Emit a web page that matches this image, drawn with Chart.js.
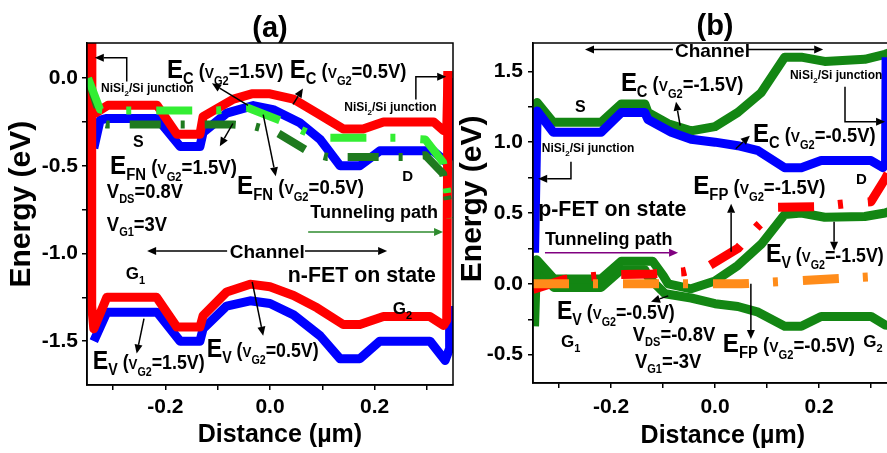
<!DOCTYPE html>
<html>
<head>
<meta charset="utf-8">
<script src="https://cdn.jsdelivr.net/npm/chart.js@4.4.1/dist/chart.umd.min.js"></script>
<style>
    html, body { margin: 0; padding: 0; background: #fff; width: 887px; height: 453px; overflow: hidden; }
    canvas { position: absolute; top: 0; }
</style>
</head>
<body>
<canvas id="grafA" width="470" height="453" style="left:0"></canvas>
<canvas id="grafB" width="470" height="453" style="left:440px"></canvas>
<script>
// ---- panel (a): n-FET ----
var xTicks = [-0.3, -0.2, -0.1, 0.0, 0.1, 0.2, 0.3];
var yTicksA = [-1.5, -1.25, -1.0, -0.75, -0.5, -0.25, 0.0];
var yTicksB = [-0.5, -0.25, 0.0, 0.25, 0.5, 0.75, 1.0, 1.25, 1.5];

// Ec, VG2 = 0.5V (red)
var aEcRedX = [-0.342, -0.341, -0.334, -0.31, -0.216, -0.178, -0.134, -0.128, -0.07, -0.035, 0.0, 0.045, 0.09, 0.14, 0.178, 0.217, 0.313, 0.332, 0.338, 0.3405];
var aEcRedY = [0.3, -0.15, -0.2, -0.155, -0.155, -0.32, -0.32, -0.22, -0.12, -0.09, -0.09, -0.12, -0.2, -0.29, -0.29, -0.25, -0.25, -0.3, -0.3, 0.04];
// Ev, VG2 = 0.5V (red)
var aEvRedX = [-0.342, -0.341, -0.337, -0.312, -0.217, -0.178, -0.134, -0.128, -0.083, -0.038, 0.0, 0.045, 0.09, 0.14, 0.172, 0.217, 0.306, 0.332, 0.338, 0.3405];
var aEvRedY = [0.3, -1.3, -1.43, -1.25, -1.25, -1.42, -1.42, -1.355, -1.22, -1.175, -1.19, -1.24, -1.31, -1.405, -1.405, -1.36, -1.36, -1.41, -1.38, 0.04];
// Ec, VG2 = 1.5V (blue)
var aEcBlueX = [-0.337, -0.325, -0.312, -0.216, -0.172, -0.134, -0.128, -0.083, -0.032, 0.006, 0.057, 0.096, 0.134, 0.172, 0.21, 0.312, 0.337, 0.3425, 0.3435];
var aEcBlueY = [-0.40, -0.24, -0.23, -0.23, -0.39, -0.39, -0.31, -0.2, -0.157, -0.18, -0.255, -0.35, -0.5, -0.5, -0.415, -0.415, -0.48, -0.45, 0.0];
// Ev, VG2 = 1.5V (blue)
var aEvBlueX = [-0.337, -0.312, -0.216, -0.172, -0.134, -0.128, -0.083, -0.038, 0.0, 0.045, 0.096, 0.134, 0.172, 0.21, 0.306, 0.335, 0.3425, 0.3435];
var aEvBlueY = [-1.5, -1.335, -1.335, -1.5, -1.5, -1.43, -1.3, -1.27, -1.285, -1.35, -1.47, -1.6, -1.6, -1.5, -1.5, -1.61, -1.55, -1.3];
// EFN, VG2 = 0.5V (light green)
var aFnLightX = [-0.348, -0.325, -0.312, -0.1, -0.06, -0.044, 0.025, 0.07, 0.11, 0.245, 0.297, 0.331, 0.339, 0.345];
var aFnLightY = [0.0, -0.18, -0.185, -0.185, -0.17, -0.168, -0.248, -0.31, -0.34, -0.34, -0.35, -0.48, -0.65, -0.8];
// EFN, VG2 = 1.5V (dark green)
var aFnDarkX = [-0.348, -0.32, -0.312, -0.07, -0.03, 0.013, 0.077, 0.11, 0.255, 0.297, 0.331, 0.339, 0.345];
var aFnDarkY = [0.0, -0.26, -0.265, -0.265, -0.275, -0.31, -0.425, -0.45, -0.45, -0.44, -0.545, -0.68, -0.8];

// ---- panel (b): p-FET ----
// Ec, VG2 = -1.5V (green)
var bEcGreenX = [-0.346, -0.342, -0.311, -0.219, -0.18, -0.135, -0.129, -0.09, -0.046, 0.0, 0.044, 0.089, 0.134, 0.166, 0.211, 0.288, 0.327, 0.35];
var bEcGreenY = [0.9, 1.28, 1.14, 1.14, 1.27, 1.27, 1.21, 1.13, 1.08, 1.11, 1.21, 1.35, 1.6, 1.6, 1.57, 1.585, 1.62, 1.65];
// Ec, VG2 = -0.5V (blue)
var bEcBlueX = [-0.347, -0.342, -0.311, -0.219, -0.18, -0.135, -0.129, -0.084, -0.046, 0.0, 0.044, 0.083, 0.134, 0.166, 0.204, 0.3, 0.323, 0.328, 0.329];
var bEcBlueY = [0.22, 1.22, 1.07, 1.07, 1.21, 1.21, 1.16, 1.07, 1.02, 1.0, 0.975, 0.94, 0.82, 0.82, 0.87, 0.87, 0.82, 0.85, 1.6];
// Ev, VG2 = -1.5V (green)
var bEvHighX = [-0.347, -0.343, -0.31, -0.219, -0.18, -0.12, -0.1, -0.09, -0.046, 0.0, 0.044, 0.089, 0.134, 0.166, 0.211, 0.288, 0.327, 0.35];
var bEvHighY = [-0.3, 0.17, 0.035, 0.035, 0.16, 0.16, 0.06, 0.0, -0.035, 0.02, 0.13, 0.28, 0.49, 0.5, 0.47, 0.475, 0.5, 0.53];
// Ev, VG2 = -0.5V (green)
var bEvLowX = [-0.345, -0.31, -0.219, -0.18, -0.135, -0.129, -0.096, -0.046, 0.0, 0.044, 0.083, 0.134, 0.166, 0.204, 0.3, 0.327, 0.35];
var bEvLowY = [0.1, -0.025, -0.025, 0.1, 0.1, 0.05, -0.07, -0.1, -0.14, -0.16, -0.2, -0.3, -0.3, -0.23, -0.23, -0.29, -0.3];
// EFP, VG2 = -1.5V (red)
var bFpRedX = [-0.35, -0.29, -0.2, -0.12, -0.06, -0.01, 0.044, 0.083, 0.12, 0.2, 0.25, 0.3, 0.327, 0.35];
var bFpRedY = [-0.04, 0.03, 0.065, 0.07, 0.085, 0.13, 0.25, 0.41, 0.54, 0.545, 0.565, 0.58, 0.74, 0.9];
// EFP, VG2 = -0.5V (orange)
var bFpOrangeX = [-0.35, 0.05, 0.15, 0.3, 0.35];
var bFpOrangeY = [0.0, 0.0, 0.02, 0.05, 0.06];

var FONT = '"Liberation Sans", Arial, sans-serif';
var DASH = [36, 24, 5, 25];

function pts(xs, ys) {
    return xs.map(function (x, i) { return { x: x, y: ys[i] }; });
}

function linea(label, xs, ys, color, width, dash, order) {
    return {
        label: label,
        data: pts(xs, ys),
        borderColor: color,
        backgroundColor: color,
        borderWidth: width,
        borderDash: dash || [],
        borderJoinStyle: 'round',
        pointRadius: 0,
        tension: 0,
        clip: 0,
        order: order
    };
}

// subscripted labels
function lab(main, sub, vg) {
    return [[main, 26, 0], [sub, 16, 6], [' (', 20, 0], ['V', 15, 0], ['G2', 12, 7], ['=' + vg + ')', 20, 0]];
}
function vsub(sub, val) {
    return [['V', 20, 0], [sub, 12, 5], ['=' + val, 20, 0]];
}
var nisi = [['NiSi', 12, 0], ['2', 8, 4], ['/Si junction', 12, 0]];

function rich(ctx, x, y, segs, sq) {
    ctx.save();
    ctx.translate(x, y);
    ctx.scale(sq || 1, 1);
    var cx = 0;
    segs.forEach(function (s) {
        ctx.font = 'bold ' + s[1] + 'px ' + FONT;
        ctx.fillText(s[0], cx, s[2]);
        cx += ctx.measureText(s[0]).width;
    });
    ctx.restore();
}

function flecha(ctx, p, color) {
    ctx.save();
    ctx.strokeStyle = color;
    ctx.fillStyle = color;
    ctx.lineWidth = 1.5;
    var n = p.length;
    var dx = p[n - 1][0] - p[n - 2][0], dy = p[n - 1][1] - p[n - 2][1];
    var d = Math.sqrt(dx * dx + dy * dy), ux = dx / d, uy = dy / d;
    var bx = p[n - 1][0] - ux * 9, by = p[n - 1][1] - uy * 9;
    ctx.beginPath();
    ctx.moveTo(p[0][0], p[0][1]);
    for (var i = 1; i < n - 1; i++) ctx.lineTo(p[i][0], p[i][1]);
    ctx.lineTo(bx, by);
    ctx.stroke();
    ctx.beginPath();
    ctx.moveTo(p[n - 1][0], p[n - 1][1]);
    ctx.lineTo(bx - uy * 4, by + ux * 4);
    ctx.lineTo(bx + uy * 4, by - ux * 4);
    ctx.closePath();
    ctx.fill();
    ctx.restore();
}

// frame + annotations, positions in data units
function notas(cfg) {
    return {
        id: 'notas',
        afterDraw: function (chart) {
            var ctx = chart.ctx, a = chart.chartArea;
            var sx = chart.scales.x, sy = chart.scales.y;
            var px = function (v) { return sx.getPixelForValue(v); };
            var py = function (v) { return sy.getPixelForValue(v); };
            ctx.save();
            ctx.strokeStyle = '#000';
            ctx.lineWidth = 1.5;
            ctx.strokeRect(a.left, a.top, a.right - a.left, a.bottom - a.top);
            ctx.fillStyle = '#000';
            ctx.textBaseline = 'alphabetic';
            ctx.textAlign = 'left';
            cfg.textos.forEach(function (t) {
                rich(ctx, px(t.x), py(t.y), t.s, t.sq);
            });
            cfg.flechas.forEach(function (f) {
                flecha(ctx, f.p.map(function (q) { return [px(q[0]), py(q[1])]; }), f.c || '#000');
            });
            // titles
            ctx.textAlign = 'center';
            ctx.textBaseline = 'middle';
            ctx.font = 'bold 29px ' + FONT;
            ctx.fillText(cfg.panel, px(0), py(cfg.panelY));
            ctx.font = 'bold 25px ' + FONT;
            ctx.fillText('Distance (\u00b5m)', px(cfg.xtit[0]), py(cfg.xtit[1]));
            ctx.save();
            ctx.translate(px(cfg.ytit[0]), py(cfg.ytit[1]));
            ctx.rotate(-Math.PI / 2);
            ctx.font = 'bold 30px ' + FONT;
            ctx.fillText('Energy (eV)', 0, 0);
            ctx.restore();
            ctx.restore();
        }
    };
}

function escala(min, max, ticks, step, fitKey, fitVal, pad) {
    return {
        type: 'linear',
        min: min,
        max: max,
        afterBuildTicks: function (s) {
            s.ticks = ticks.map(function (v) { return { value: v }; });
        },
        afterFit: function (s) { s[fitKey] = fitVal; },
        grid: { drawOnChartArea: false, tickLength: 5, color: '#000', lineWidth: 1.5 },
        border: { color: '#000', width: 1.5 },
        ticks: {
            autoSkip: false,
            maxRotation: 0,
            padding: pad,
            color: '#000',
            font: { family: FONT, weight: 'bold', size: 21 },
            callback: function (v) {
                var r = v / step;
                return Math.abs(r - Math.round(r)) < 1e-6 ? v.toFixed(1) : '';
            }
        }
    };
}

function panel(id, datasets, yr, yTicks, geo, cfg) {
    var ctx = document.getElementById(id).getContext('2d');
    return new Chart(ctx, {
        type: 'line',
        data: { datasets: datasets },
        options: {
            responsive: false,
            animation: false,
            devicePixelRatio: 1,
            layout: { padding: { left: 0, right: geo.right, top: 43, bottom: 0 } },
            plugins: { legend: { display: false }, tooltip: { enabled: false } },
            scales: {
                x: escala(-0.35, 0.35, xTicks, 0.2, 'height', geo.xh, geo.xpad),
                y: escala(yr[0], yr[1], yTicks, 0.5, 'width', geo.yw, geo.ypad)
            }
        },
        plugins: [notas(cfg)]
    });
}

panel('grafA', [
    linea('EFN (VG2=0.5V)', aFnLightX, aFnLightY, '#33ee33', 8, DASH, 1),
    linea('EFN (VG2=1.5V)', aFnDarkX, aFnDarkY, '#1f7a1f', 8, [31, 20, 4, 20], 2),
    linea('Ec (VG2=0.5V)', aEcRedX, aEcRedY, '#ff0000', 9, null, 3),
    linea('Ev (VG2=0.5V)', aEvRedX, aEvRedY, '#ff0000', 9, null, 3),
    linea('Ec (VG2=1.5V)', aEcBlueX, aEcBlueY, '#0000ff', 9, null, 4),
    linea('Ev (VG2=1.5V)', aEvBlueX, aEvBlueY, '#0000ff', 9, null, 4)
], [-1.75, 0.2], yTicksA, { right: 17, xh: 68, yw: 87, xpad: 5, ypad: 4 }, {
    panel: '(a)', panelY: 0.28, xtit: [0.019, -2.037], ytit: [-0.475, -0.719],
    textos: [
        { x: -0.323, y: -0.082, s: nisi },
        { x: 0.142, y: -0.19, s: nisi },
        { x: -0.197, y: 0.0, s: lab('E', 'C', '1.5V'), sq: 0.92 },
        { x: 0.038, y: 0.0, s: lab('E', 'C', '0.5V'), sq: 0.92 },
        { x: -0.306, y: -0.548, s: lab('E', 'FN', '1.5V'), sq: 0.93 },
        { x: -0.063, y: -0.66, s: lab('E', 'FN', '0.5V'), sq: 0.93 },
        { x: -0.312, y: -0.685, s: vsub('DS', '0.8V'), sq: 0.92 },
        { x: -0.312, y: -0.87, s: vsub('G1', '3V'), sq: 0.92 },
        { x: -0.262, y: -0.395, s: [['S', 16, 0]] },
        { x: 0.253, y: -0.588, s: [['D', 15, 0]] },
        { x: 0.077, y: -0.80, s: [['Tunneling path', 18, 0]] },
        { x: -0.077, y: -1.025, s: [['Channel', 19, 0]] },
        { x: 0.034, y: -1.162, s: [['n-FET on state', 22, 0]], sq: 0.97 },
        { x: -0.276, y: -1.145, s: [['G', 17, 0], ['1', 11, 5]] },
        { x: 0.235, y: -1.344, s: [['G', 17, 0], ['2', 11, 5]] },
        { x: -0.339, y: -1.656, s: lab('E', 'V', '1.5V'), sq: 0.89 },
        { x: -0.121, y: -1.588, s: lab('E', 'V', '0.5V'), sq: 0.89 }
    ],
    flechas: [
        { p: [[-0.274, -0.02], [-0.274, 0.116], [-0.335, 0.116]] },
        { p: [[0.279, -0.122], [0.279, 0.008], [0.337, 0.008]] },
        { p: [[-0.042, -0.156], [-0.111, -0.03]] },
        { p: [[0.044, -0.15], [0.063, -0.06]] },
        { p: [[-0.071, -0.259], [-0.096, -0.389]] },
        { p: [[-0.013, -0.208], [0.011, -0.56]] },
        { p: [[0.073, -0.878], [0.331, -0.878]], c: '#2e8b2e' },
        { p: [[-0.082, -0.986], [-0.235, -0.986]] },
        { p: [[0.067, -0.986], [0.224, -0.986]] },
        { p: [[-0.241, -1.372], [-0.255, -1.571]] },
        { p: [[-0.034, -1.162], [-0.013, -1.469]] }
    ]
});

panel('grafB', [
    linea('EFP (VG2=-0.5V)', bFpOrangeX, bFpOrangeY, '#ff8c1a', 9, DASH, 1),
    linea('EFP (VG2=-1.5V)', bFpRedX, bFpRedY, '#ff0000', 9, DASH, 2),
    linea('Ec (VG2=-0.5V)', bEcBlueX, bEcBlueY, '#0000ff', 9, null, 3),
    linea('Ec (VG2=-1.5V)', bEcGreenX, bEcGreenY, '#138613', 9, null, 4),
    linea('Ev (VG2=-1.5V)', bEvHighX, bEvHighY, '#138613', 9, null, 4),
    linea('Ev (VG2=-0.5V)', bEvLowX, bEvLowY, '#138613', 9, null, 4)
], [-0.7, 1.7], yTicksB, { right: 13, xh: 70, yw: 93, xpad: 7, ypad: 5 }, {
    panel: '(b)', panelY: 1.816, xtit: [0.015, -1.074], ytit: [-0.465, 0.60],
    textos: [
        { x: -0.077, y: 1.604, s: [['Channel', 19, 0]] },
        { x: -0.181, y: 1.364, s: lab('E', 'C', '-1.5V'), sq: 0.92 },
        { x: -0.269, y: 1.216, s: [['S', 16, 0]] },
        { x: 0.144, y: 1.449, s: nisi },
        { x: -0.333, y: 0.933, s: nisi },
        { x: 0.073, y: 1.0, s: lab('E', 'C', '-0.5V'), sq: 0.92 },
        { x: -0.042, y: 0.636, s: lab('E', 'FP', '-1.5V'), sq: 0.93 },
        { x: 0.271, y: 0.707, s: [['D', 15, 0]] },
        { x: -0.34, y: 0.48, s: [['p-FET on state', 22, 0]], sq: 0.97 },
        { x: -0.327, y: 0.276, s: [['Tunneling path', 18, 0]] },
        { x: 0.098, y: 0.155, s: lab('E', 'V', '-1.5V'), sq: 0.89 },
        { x: -0.304, y: -0.247, s: lab('E', 'V', '-0.5V'), sq: 0.89 },
        { x: -0.158, y: -0.403, s: vsub('DS', '-0.8V'), sq: 0.92 },
        { x: -0.154, y: -0.594, s: vsub('G1', '-3V'), sq: 0.92 },
        { x: -0.296, y: -0.445, s: [['G', 17, 0], ['1', 11, 5]] },
        { x: 0.015, y: -0.48, s: lab('E', 'FP', '-0.5V'), sq: 0.93 },
        { x: 0.285, y: -0.445, s: [['G', 17, 0], ['2', 11, 5]] }
    ],
    flechas: [
        { p: [[-0.081, 1.654], [-0.25, 1.654]] },
        { p: [[0.063, 1.654], [0.208, 1.654]] },
        { p: [[-0.067, 1.117], [-0.075, 1.286]] },
        { p: [[0.25, 1.392], [0.25, 1.145], [0.327, 1.145]] },
        { p: [[-0.277, 0.862], [-0.277, 0.742], [-0.34, 0.742]] },
        { p: [[0.04, 0.954], [0.067, 1.046]] },
        { p: [[0.031, 0.226], [0.031, 0.565]] },
        { p: [[-0.327, 0.219], [-0.071, 0.219]], c: '#800080' },
        { p: [[0.229, 0.438], [0.229, 0.233]] },
        { p: [[-0.09, -0.085], [-0.123, -0.127]] },
        { p: [[0.069, 0.0], [0.069, -0.389]] }
    ]
});
</script>
</body>
</html>
